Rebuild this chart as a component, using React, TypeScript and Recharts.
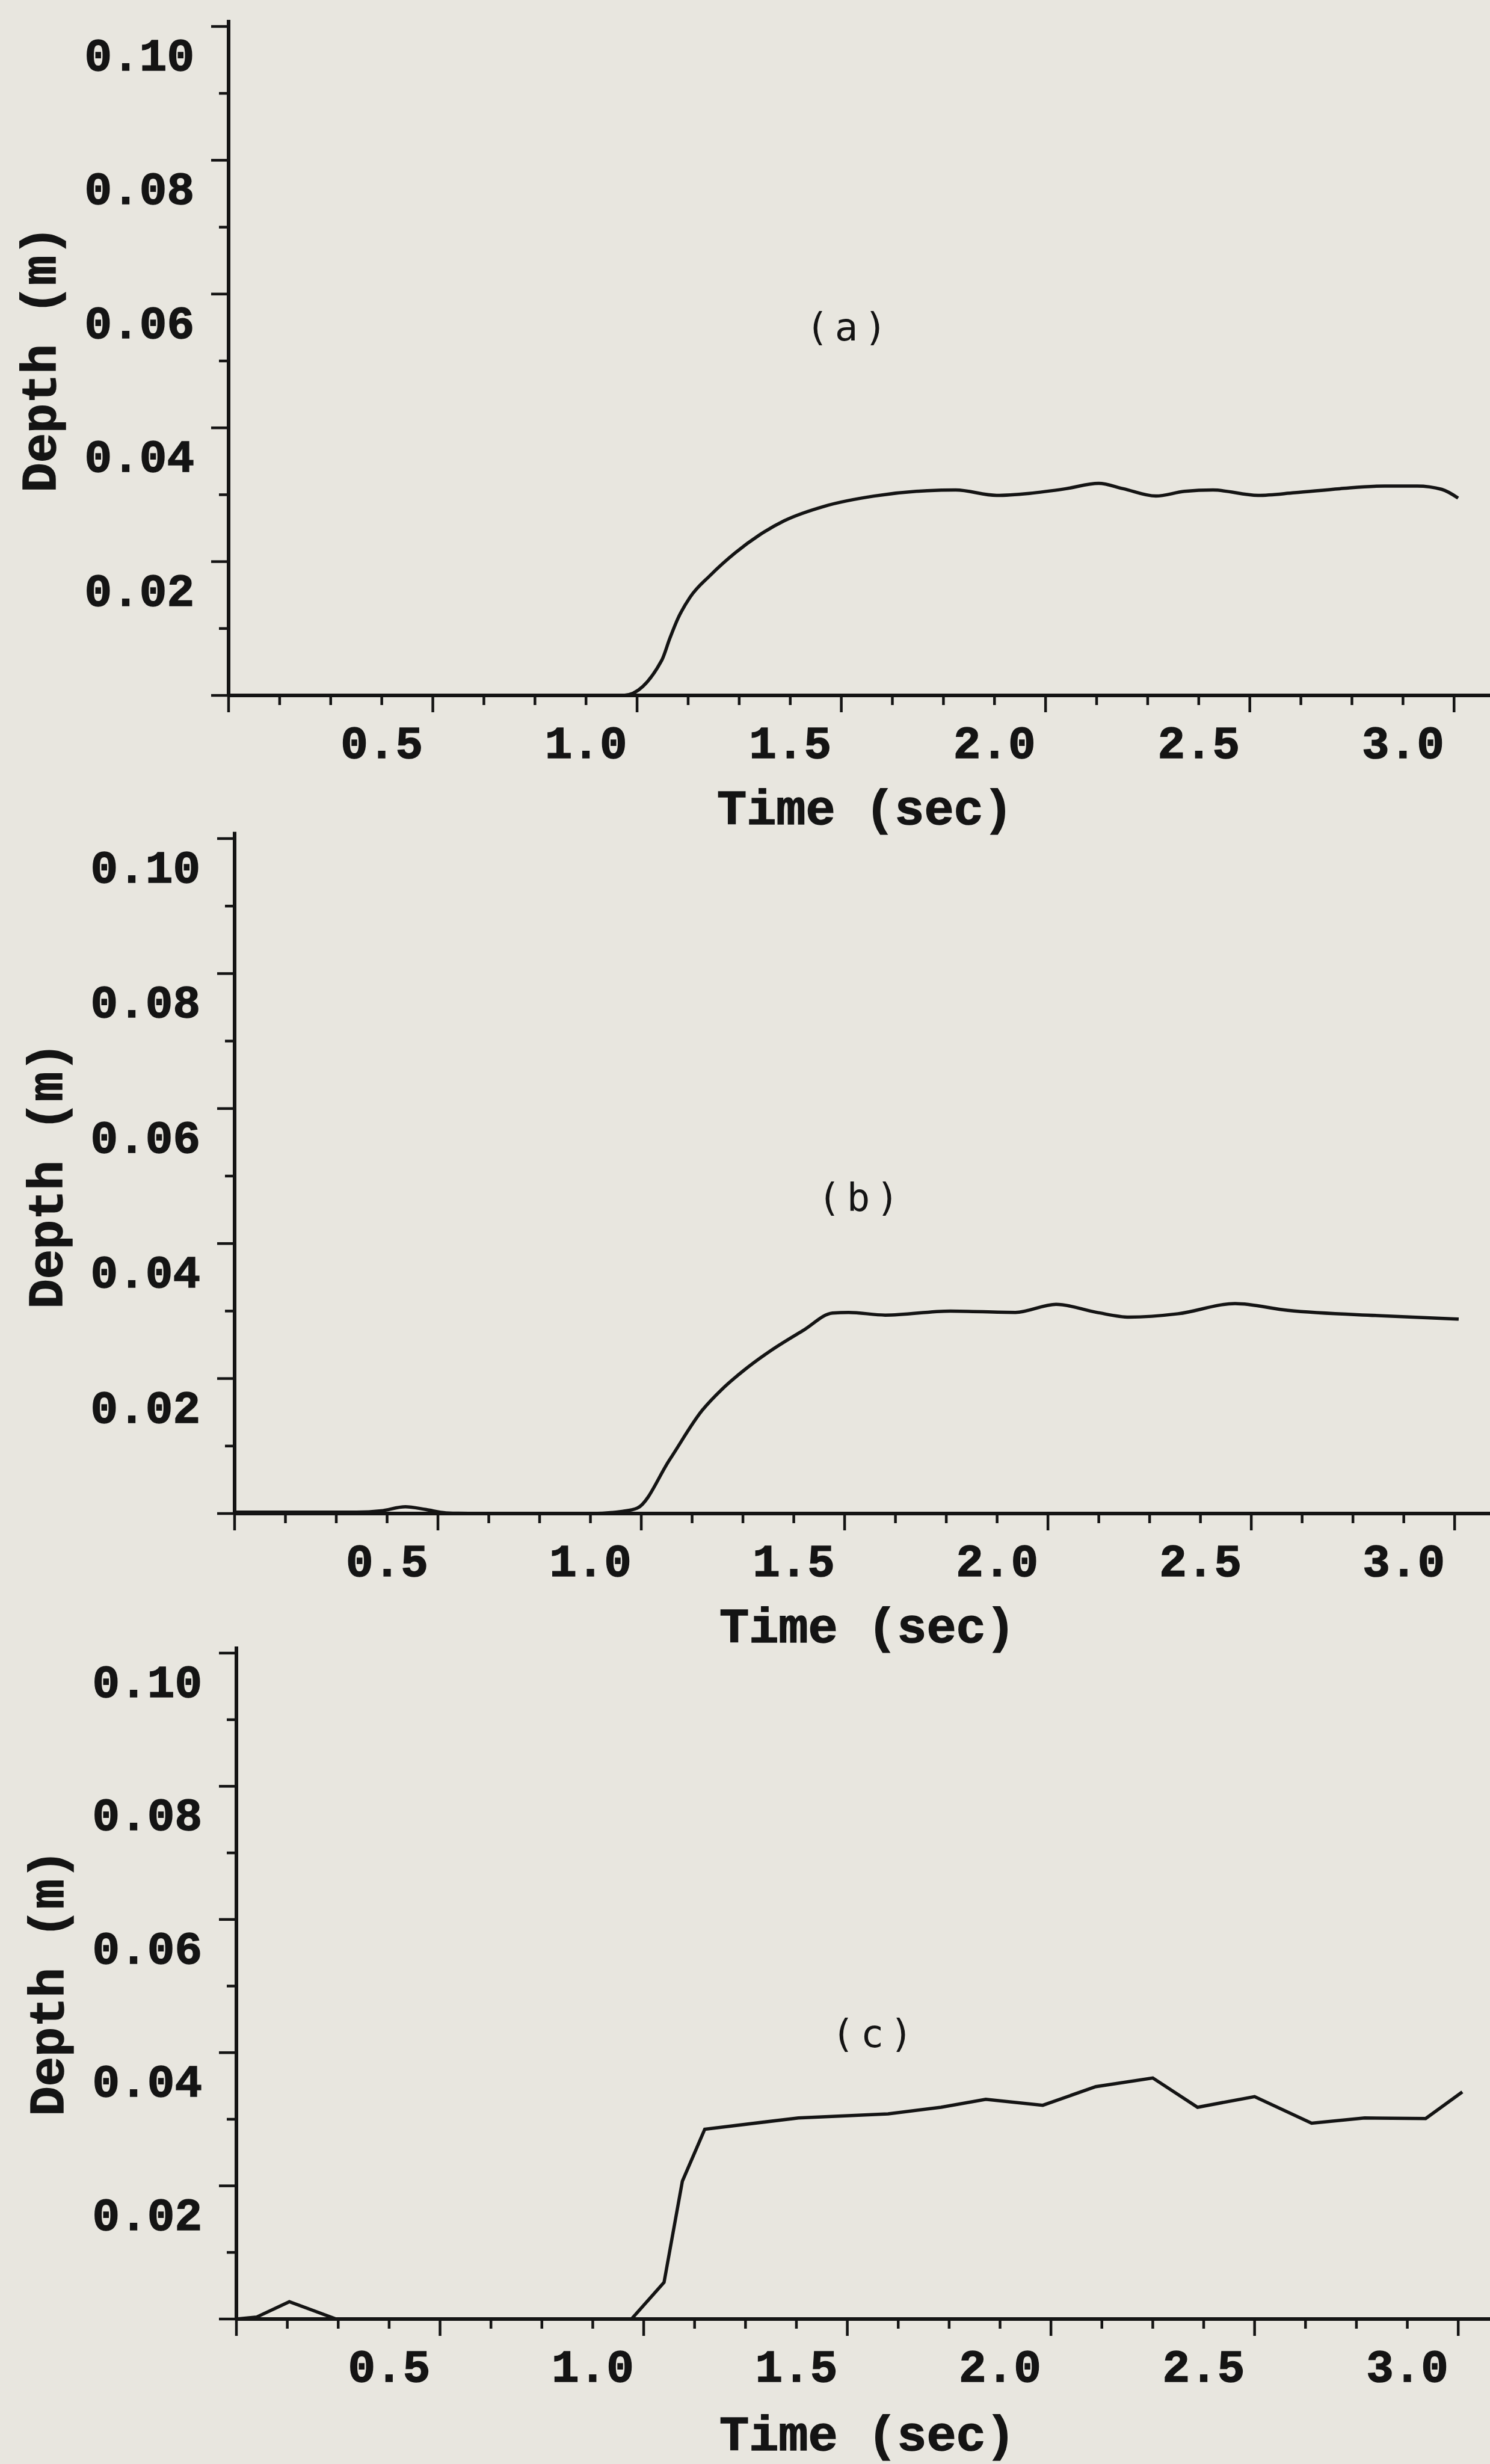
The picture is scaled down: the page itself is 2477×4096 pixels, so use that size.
import { Line, LineChart, XAxis, YAxis } from "recharts";

const INK = "#141414";
const PAPER = "#e8e6df";
const WIDTH = 2477;
const HEIGHT = 4096;

// panel (a)
const timeA = [0, 0.5, 0.967, 1.06, 1.08, 1.1, 1.13, 1.18, 1.24, 1.3, 1.36, 1.46, 1.58, 1.71, 1.78, 1.88, 1.96, 2.05, 2.13, 2.19, 2.27, 2.34, 2.41, 2.52, 2.61, 2.72, 2.83, 2.91, 2.97, 3.01];
const depthA = [0, 0, 0, 0.0052, 0.0085, 0.0115, 0.0147, 0.018, 0.0213, 0.024, 0.0261, 0.0283, 0.0298, 0.0306, 0.0307, 0.0299, 0.0302, 0.0309, 0.0317, 0.0309, 0.0298, 0.0305, 0.0307, 0.0299, 0.0303, 0.0309, 0.0313, 0.0313, 0.0308, 0.0295];

// panel (b)
const timeB = [0, 0.3, 0.36, 0.42, 0.47, 0.52, 0.6, 0.88, 0.95, 0.99, 1.07, 1.15, 1.2, 1.25, 1.32, 1.4, 1.47, 1.51, 1.6, 1.76, 1.92, 2.02, 2.12, 2.2, 2.32, 2.46, 2.59, 2.82, 3.01];
const depthB = [0.0002, 0.0002, 0.0004, 0.001, 0.0006, 0.0001, 0, 0, 0.0003, 0.0008, 0.008, 0.0153, 0.0185, 0.0211, 0.0242, 0.0272, 0.0297, 0.0298, 0.0294, 0.03, 0.0298, 0.031, 0.0298, 0.0291, 0.0296, 0.0311, 0.0301, 0.0293, 0.0288];

// panel (c)
const timeC = [0, 0.05, 0.13, 0.245, 0.5, 0.97, 1.05, 1.095, 1.15, 1.38, 1.6, 1.73, 1.84, 1.98, 2.11, 2.25, 2.36, 2.5, 2.64, 2.77, 2.92, 3.01];
const depthC = [0, 0.0003, 0.0026, 0, 0, 0, 0.0055, 0.0207, 0.0285, 0.0302, 0.0308, 0.0318, 0.033, 0.0321, 0.0349, 0.0362, 0.0318, 0.0334, 0.0294, 0.0302, 0.0301, 0.0341];

// axes
const yTicks = [0, 0.01, 0.02, 0.03, 0.04, 0.05, 0.06, 0.07, 0.08, 0.09, 0.1];
const yMajor = [0, 0.02, 0.04, 0.06, 0.08, 0.1];
const yLabels = ["", "0.02", "0.04", "0.06", "0.08", "0.10"];
const xTicks = [0, 0.125, 0.25, 0.375, 0.5, 0.625, 0.75, 0.875, 1, 1.125, 1.25, 1.375, 1.5, 1.625, 1.75, 1.875, 2, 2.125, 2.25, 2.375, 2.5, 2.625, 2.75, 2.875, 3];
const xMajor = [0, 0.5, 1, 1.5, 2, 2.5, 3];
const xLabels = ["", "0.5", "1.0", "1.5", "2.0", "2.5", "3.0"];

const findIdx = (arr: number[], v: number) => arr.findIndex((a) => Math.abs(a - v) < 1e-9);

const NUM_FONT = "'Liberation Mono', monospace";

type PanelProps = {
  tag: string;
  times: number[];
  depths: number[];
  curve: "monotone" | "linear";
  top: number;
  axisX: number;
  y10: number;
  y0: number;
  xMax: number;
  depthX: number;
  depthY: number;
  timeX: number;
  timeDy: number;
  tagX: number;
  tagY: number;
};

const Panel = (p: PanelProps) => {
  const data = p.times.map((t, i) => ({ t, d: p.depths[i] }));
  const span = p.y0 - p.y10;
  const yMax = 0.101;
  const marginTop = p.y10 - p.top - (span * (yMax - 0.1)) / 0.1;
  const plotBottom = p.y0 - p.top;
  const height = plotBottom + 260;
  const pxPerSec = (WIDTH - p.axisX) / p.xMax;
  const labelShift = 0.125 * pxPerSec;

  const XTick = (props: any) => {
    const { x, y, payload } = props;
    const k = findIdx(xMajor, payload.value);
    const major = k >= 0;
    return (
      <g>
        <line x1={x} x2={x} y1={y} y2={y + (major ? 28 : 16)} stroke={INK} strokeWidth={4.5} />
        {major && xLabels[k] && (
          <text
            x={x - labelShift}
            y={y + 104}
            textAnchor="middle"
            fontFamily={NUM_FONT}
            fontWeight="bold"
            fontSize={76}
            fill={INK}
            stroke={INK}
            strokeWidth={1.5}
          >
            {xLabels[k]}
          </text>
        )}
      </g>
    );
  };

  const YTick = (props: any) => {
    const { x, y, payload } = props;
    const k = findIdx(yMajor, payload.value);
    const major = k >= 0;
    return (
      <g>
        <line x1={x} x2={x - (major ? 29 : 16)} y1={y} y2={y} stroke={INK} strokeWidth={4.5} />
        {major && yLabels[k] && (
          <text
            x={x - 57}
            y={y + 73}
            textAnchor="end"
            fontFamily={NUM_FONT}
            fontWeight="bold"
            fontSize={76}
            fill={INK}
            stroke={INK}
            strokeWidth={1.5}
          >
            {yLabels[k]}
          </text>
        )}
      </g>
    );
  };

  const renderSideText = () => (
    <g>
      <text
        transform={`translate(${p.depthX},${p.depthY - p.top}) rotate(-90)`}
        textAnchor="middle"
        dominantBaseline="central"
        fontFamily={NUM_FONT}
        fontWeight="bold"
        fontSize={82}
        fill={INK}
        stroke={INK}
        strokeWidth={1.5}
      >
        Depth (m)
      </text>
      <text
        x={p.tagX}
        y={p.tagY - p.top}
        textAnchor="middle"
        dominantBaseline="central"
        fontFamily="'DejaVu Sans Mono', monospace"
        fontSize={64}
        letterSpacing={10}
        fill={INK}
      >
        {p.tag}
      </text>
    </g>
  );

  const renderTime = () => (
    <text
      x={p.timeX}
      y={plotBottom + p.timeDy}
      textAnchor="middle"
      dominantBaseline="central"
      fontFamily={NUM_FONT}
      fontWeight="bold"
      fontSize={82}
      fill={INK}
      stroke={INK}
      strokeWidth={1.5}
    >
      Time (sec)
    </text>
  );

  return (
    <div style={{ position: "absolute", left: 0, top: p.top }}>
      <LineChart
        width={WIDTH}
        height={height}
        data={data}
        margin={{ top: marginTop, right: 0, bottom: 0, left: 0 }}
      >
        <XAxis
          type="number"
          dataKey="t"
          domain={[0, p.xMax]}
          ticks={xTicks}
          interval={0}
          allowDataOverflow
          height={height - plotBottom}
          tickSize={0}
          tickMargin={0}
          tickLine={false}
          axisLine={{ stroke: INK, strokeWidth: 6 }}
          tick={<XTick />}
          label={{ value: "Time (sec)", content: renderTime }}
        />
        <YAxis
          type="number"
          domain={[0, yMax]}
          ticks={yTicks}
          interval={0}
          allowDataOverflow
          width={p.axisX}
          tickSize={0}
          tickMargin={0}
          tickLine={false}
          axisLine={{ stroke: INK, strokeWidth: 6 }}
          tick={<YTick />}
          label={{ value: "Depth (m)", content: renderSideText }}
        />
        <Line
          type={p.curve}
          dataKey="d"
          stroke={INK}
          strokeWidth={5.5}
          dot={false}
          activeDot={false}
          isAnimationActive={false}
        />
      </LineChart>
    </div>
  );
};

export default function App() {
  return (
    <div
      style={{
        position: "absolute",
        left: 0,
        top: 0,
        width: WIDTH,
        height: HEIGHT,
        background: PAPER,
        overflow: "hidden",
      }}
    >
      <Panel
        tag="(a)"
        times={timeA}
        depths={depthA}
        curve="monotone"
        top={0}
        axisX={380}
        y10={44}
        y0={1156}
        xMax={3.088}
        depthX={70}
        depthY={597}
        timeX={1438}
        timeDy={192}
        tagX={1412}
        tagY={544}
      />
      <Panel
        tag="(b)"
        times={timeB}
        depths={depthB}
        curve="monotone"
        top={1340}
        axisX={390}
        y10={1394}
        y0={2516}
        xMax={3.087}
        depthX={81}
        depthY={1954}
        timeX={1442}
        timeDy={192}
        tagX={1432}
        tagY={1991}
      />
      <Panel
        tag="(c)"
        times={timeC}
        depths={depthC}
        curve="linear"
        top={2696}
        axisX={393}
        y10={2748}
        y0={3855}
        xMax={3.078}
        depthX={83}
        depthY={3296}
        timeX={1442}
        timeDy={196}
        tagX={1455}
        tagY={3381}
      />
    </div>
  );
}
